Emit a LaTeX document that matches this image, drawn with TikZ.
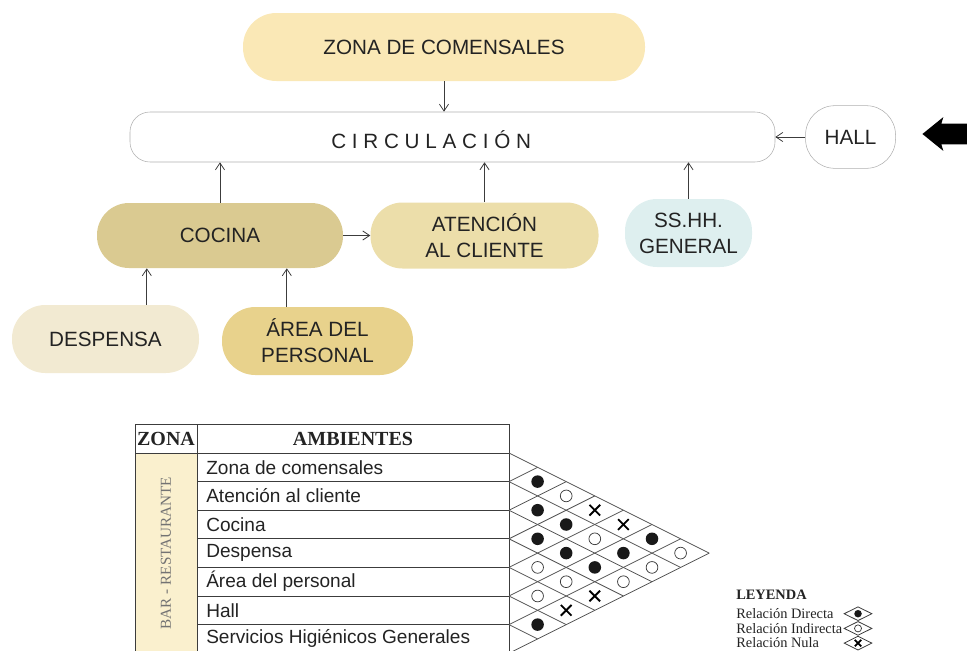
\documentclass[tikz,border=0pt]{standalone}
\usepackage{fontspec}
\setmainfont{Liberation Serif}
\newfontfamily\arialf{Liberation Sans}
\usepackage{tikz}
\usetikzlibrary{positioning,arrows.meta,shapes.geometric,shapes.arrows,shapes.misc}
\definecolor{inktext}{RGB}{35,35,35}
\definecolor{inkline}{RGB}{60,60,60}
\definecolor{edgegray}{RGB}{175,175,175}
\definecolor{zonafill}{RGB}{250,232,182}
\definecolor{cocinafill}{RGB}{218,202,145}
\definecolor{atenfill}{RGB}{236,222,170}
\definecolor{despfill}{RGB}{242,234,210}
\definecolor{areafill}{RGB}{232,210,140}
\definecolor{sshhfill}{RGB}{222,239,239}
\definecolor{barfill}{RGB}{250,240,206}
\definecolor{matgray}{RGB}{85,85,85}
\tikzset{
  amb/.style    ={rectangle, align=center, inner sep=0pt, text=inktext,
                  font=\arialf\fontsize{15.5}{19.5}\selectfont},
  flow/.style   ={-{Straight Barb[length=1.8mm,width=2.4mm]}, line width=0.6pt, draw=inkline},
  bigarrow/.style={single arrow, fill=black, draw=none, shape border rotate=180,
                  minimum height=60pt, inner xsep=0pt, inner ysep=7.5pt,
                  single arrow head extend=5pt, single arrow tip angle=78, single arrow head indent=1.5pt},
  tblline/.style={draw=inkline, line width=0.7pt},
  matline/.style={draw=matgray, line width=0.6pt},
  hdr/.style    ={font=\bfseries\fontsize{15}{17}\selectfont, text=inktext, inner sep=0pt},
  zonatxt/.style={font=\fontsize{11.4}{13}\selectfont, text=black!55, inner sep=0pt},
  ambtxt/.style ={anchor=west, font=\arialf\fontsize{14.3}{16}\selectfont, text=inktext, inner sep=0pt},
  legtit/.style ={anchor=west, font=\bfseries\fontsize{10.8}{12}\selectfont, text=inktext, inner sep=0pt},
  legtxt/.style ={anchor=west, font=\fontsize{10.8}{12}\selectfont, text=inktext, inner sep=0pt},
  legdia/.style ={diamond, aspect=2, draw=inkline, line width=0.6pt, inner sep=0pt,
                  minimum width=21pt, minimum height=10.5pt},
  relD/.style   ={circle, fill=black!90, inner sep=0pt, minimum size=9.4pt},
  relI/.style   ={circle, draw=inkline, line width=0.55pt, fill=white, inner sep=0pt, minimum size=8.8pt},
  relN/.style   ={cross out, draw=black, line width=1.4pt, inner sep=0pt, minimum size=6.6pt},
}
\begin{document}
\begin{tikzpicture}[x=0.75pt, y=-0.75pt]
\useasboundingbox (0,0) rectangle (967,650);
\node[amb, fill=zonafill, minimum width=301.5pt, minimum height=51pt, rounded corners=25pt] (zona) at (444,47) {ZONA DE COMENSALES};
\node[amb, draw=edgegray, line width=0.4pt, minimum width=483.75pt, minimum height=37.5pt, rounded corners=15pt,
      label={[amb, name=circtxt, xshift=-16pt, yshift=-2pt]center:C I R C U L A C I Ó N}] (circ) at (452.5,137) {};
\node[amb, draw=edgegray, line width=0.4pt, minimum width=67.5pt, minimum height=47pt, rounded corners=22pt, right=22.5pt of circ] (hall) {HALL};
\node[amb, fill=cocinafill, minimum width=184.5pt, minimum height=48.75pt, rounded corners=24pt] (cocina) at (220,235.5) {COCINA};
\node[amb, fill=atenfill, minimum width=171pt, minimum height=49.5pt, rounded corners=24pt, right=20.25pt of cocina] (atencion) {ATENCIÓN\\AL CLIENTE};
\node[amb, fill=sshhfill, minimum width=95.25pt, minimum height=51pt, rounded corners=24pt] (sshh) at (688.5,233) {SS.HH.\\GENERAL};
\node[amb, fill=despfill, minimum width=140.25pt, minimum height=51pt, rounded corners=25pt] (despensa) at (105.5,339) {DESPENSA};
\node[amb, fill=areafill, minimum width=143.25pt, minimum height=51pt, rounded corners=25pt] (area) at (317.5,341) {ÁREA DEL\\PERSONAL};
\node[bigarrow, anchor=tip] (entrada) at (922,134) {};
\draw[flow] (zona.south) -- (zona.south |- circ.north);
\foreach \n in {cocina,atencion,sshh} \draw[flow] (\n.north) -- (\n.north |- circ.south);
\draw[flow] (cocina) -- (atencion);
\draw[flow] (hall) -- (circ);
\draw[flow] ([xshift=31pt]despensa.north) -- ([xshift=31pt]despensa.north |- cocina.south);
\draw[flow] ([xshift=-23pt]area.north) -- ([xshift=-23pt]area.north |- cocina.south);

\fill[barfill] (135,453) rectangle (197,654);
\draw[tblline] (135,424) rectangle (509,654);
\draw[tblline] (135,453) -- (509,453);
\draw[tblline] (197,424) -- (197,654);
\foreach \k in {1,...,6} \draw[tblline] (197,{453+28.6*\k}) -- (509,{453+28.6*\k});
\node[hdr] (hzona) at (166,438.5) {ZONA};
\node[hdr] (hamb) at (353,438.5) {AMBIENTES};
\node[zonatxt, rotate=90] (bar) at (166,553) {BAR - RESTAURANTE};
\foreach \i/\t in {1/Zona de comensales, 2/Atención al cliente, 3/Cocina, 4/Despensa,
                   5/Área del personal, 6/Hall, 7/Servicios Higiénicos Generales}
  \node[ambtxt] (amb\i) at (206,{453+28.6*(\i-0.5)}) {\t};
\foreach \j in {0,...,7} {
  \draw[matline] (509,{453+28.6*\j}) -- ({509+28.6*(7-\j)},{453+14.3*(\j+7)});
  \draw[matline] (509,{453+28.6*\j}) -- ({509+28.6*\j},{453+14.3*\j});
}
\foreach \a/\b/\t in {1/2/relD, 1/3/relI, 1/4/relN, 1/5/relN, 1/6/relD, 1/7/relI,
                      2/3/relD, 2/4/relD, 2/5/relI, 2/6/relD, 2/7/relI,
                      3/4/relD, 3/5/relD, 3/6/relD, 3/7/relI,
                      4/5/relI, 4/6/relI, 4/7/relN,
                      5/6/relI, 5/7/relN,
                      6/7/relD}
  \node[\t] (m\a\b) at ({509+28.6*(\b-\a)},{453+14.3*(\a+\b-1)}) {};

\node[legtit] (leyenda) at (736,595) {LEYENDA};
\foreach \i/\t/\s in {1/Relación Directa/relD, 2/Relación Indirecta/relI, 3/Relación Nula/relN} {
  \node[legtxt] (leg\i) at (736,{598.5+14.8*\i}) {\t};
  \node[legdia] (legd\i) at (858,{599+14.7*\i}) {};
  \node[\s, scale=0.6] (legm\i) at (legd\i) {};
}
\end{tikzpicture}
\end{document}
